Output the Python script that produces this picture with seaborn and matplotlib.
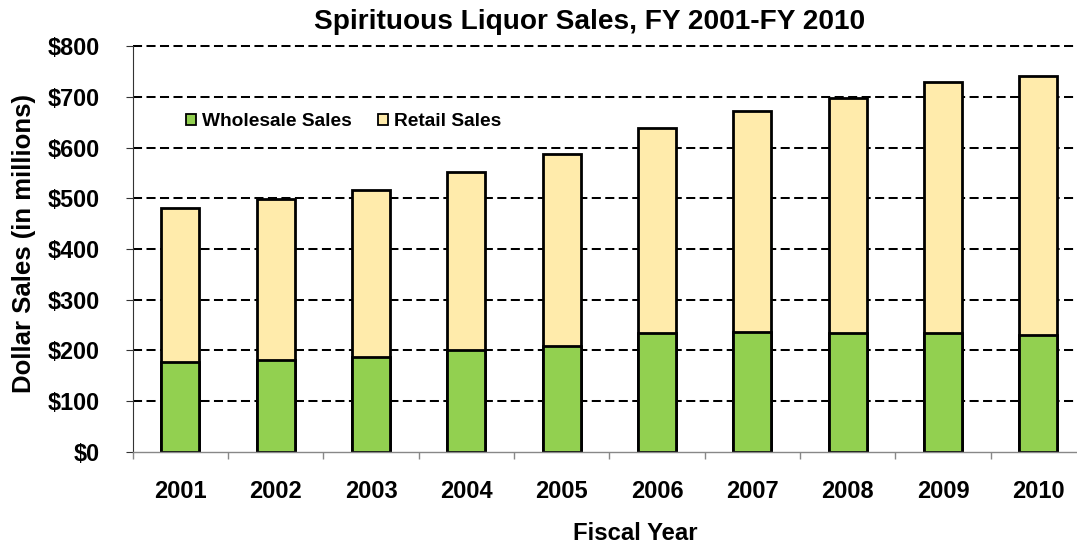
import numpy as np
import pandas as pd
import matplotlib
matplotlib.use("Agg")
import matplotlib.pyplot as plt
from matplotlib.patches import Patch
import seaborn as sns

# Spirituous liquor sales by fiscal year, in millions of dollars
years = ["2001", "2002", "2003", "2004", "2005", "2006", "2007", "2008", "2009", "2010"]
wholesale = [177, 181, 187, 200, 209, 235, 237, 235, 234, 230]
retail = [304, 317, 330, 352, 378, 403, 435, 462, 495, 512]

y_ticks = [0, 100, 200, 300, 400, 500, 600, 700, 800]
y_tick_labels = ["\\$0", "\\$100", "\\$200", "\\$300", "\\$400", "\\$500",
                 "\\$600", "\\$700", "\\$800"]

GREEN = "#92D050"
CREAM = "#FFEBAB"

sns.set_theme(style="white")
plt.rcParams["font.family"] = ["Liberation Sans", "DejaVu Sans"]
plt.rcParams["font.weight"] = "bold"
plt.rcParams["text.color"] = "black"
plt.rcParams["axes.labelcolor"] = "black"
plt.rcParams["xtick.color"] = "black"
plt.rcParams["ytick.color"] = "black"

df = pd.DataFrame({"year": years, "wholesale": wholesale, "retail": retail})
df["total"] = df["wholesale"] + df["retail"]

fig = plt.figure(figsize=(10.77, 5.43), dpi=100)
ax = fig.add_axes([132.7 / 1077, 1 - 451.7 / 543, (1086 - 132.7) / 1077, (451.7 - 46.3) / 543])

# dashed horizontal grid behind the bars
for yv in y_ticks[1:]:
    ax.axhline(yv, color="black", lw=1.45, ls=(0, (4.5, 2.2)), zorder=0.5, clip_on=False)

# stacked bars: full height in cream, wholesale portion in green on top of it
sns.barplot(data=df, x="year", y="total", color=CREAM, saturation=1, width=0.4,
            edgecolor="black", linewidth=2.0, ax=ax, zorder=2)
sns.barplot(data=df, x="year", y="wholesale", color=GREEN, saturation=1, width=0.4,
            edgecolor="black", linewidth=2.0, ax=ax, zorder=3)

ax.set_xlim(-0.5, len(years) - 0.5)
ax.set_ylim(0, 800)
ax.set_xlabel("")
ax.set_ylabel("")

# y axis
ax.set_yticks(y_ticks)
ax.set_yticklabels(y_tick_labels, fontsize=16.8, fontweight="bold")
ax.tick_params(axis="y", which="major", left=True, direction="out", length=5,
               width=0.8, color="#333333", pad=18.5)

# x axis: tick marks between categories, labels at the category centres
ax.set_xticks(np.arange(len(years)) - 0.5)
ax.set_xticklabels([])
ax.set_xticks(np.arange(len(years)), minor=True)
ax.set_xticklabels(years, minor=True, fontsize=17, fontweight="bold")
ax.tick_params(axis="x", which="major", bottom=True, direction="out", length=5,
               width=1.0, color="#888888")
ax.tick_params(axis="x", which="minor", bottom=True, length=0, pad=20.5)

for side in ["top", "right"]:
    ax.spines[side].set_visible(False)
ax.spines["left"].set_color("#333333")
ax.spines["left"].set_linewidth(0.8)
ax.spines["bottom"].set_color("#888888")
ax.spines["bottom"].set_linewidth(1.0)
ax.spines["bottom"].set_zorder(4)

# legend
handles = [Patch(facecolor=GREEN, edgecolor="black", linewidth=1.3, label="Wholesale Sales"),
           Patch(facecolor=CREAM, edgecolor="black", linewidth=1.3, label="Retail Sales")]
fig.legend(handles=handles, loc="center left", bbox_to_anchor=(186 / 1077, 1 - 122 / 543),
           ncol=2, frameon=False, prop={"size": 13.8, "weight": "bold"},
           handlelength=0.52, handleheight=0.52, handletextpad=0.3, columnspacing=1.4,
           borderpad=0, borderaxespad=0)

fig.text(589.5 / 1077, 1 - 29 / 543, "Spirituous Liquor Sales, FY 2001-FY 2010",
         ha="center", va="baseline", fontsize=20.2, fontweight="bold")
fig.text(635 / 1077, 1 - 540 / 543, "Fiscal Year", ha="center", va="baseline",
         fontsize=17.2, fontweight="bold")
fig.text(24 / 1077, 1 - 243 / 543, "Dollar Sales (in millions)", ha="center", va="center",
         rotation=90, fontsize=18.5, fontweight="bold")

fig.savefig("out.png", dpi=100)
